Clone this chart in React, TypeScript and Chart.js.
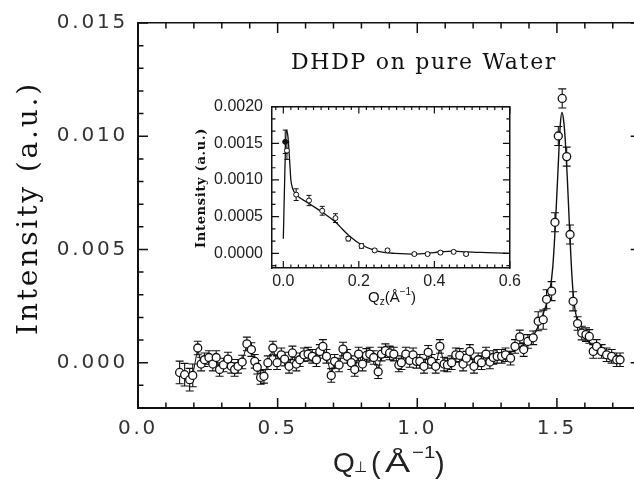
import { useEffect, useRef } from 'react';
import { Chart, registerables } from 'chart.js';
Chart.register(...registerables);

// ---------------- data ----------------
const mainQ = [
  0.149, 0.167, 0.185, 0.196, 0.214, 0.226, 0.238, 0.254, 0.268, 0.280,
  0.292, 0.306, 0.322, 0.334, 0.346, 0.358, 0.373, 0.390, 0.406, 0.418,
  0.427, 0.439, 0.451, 0.465, 0.483, 0.498, 0.513, 0.525, 0.541, 0.553,
  0.567, 0.579, 0.594, 0.609, 0.624, 0.639, 0.651, 0.662, 0.675, 0.692,
  0.704, 0.720, 0.734, 0.749, 0.764, 0.776, 0.790, 0.804, 0.818, 0.830,
  0.844, 0.860, 0.872, 0.886, 0.901, 0.916, 0.934, 0.943, 0.959, 0.973,
  0.985, 0.997, 1.009, 1.024, 1.039, 1.051, 1.066, 1.081, 1.096, 1.108,
  1.123, 1.138, 1.152, 1.164, 1.176, 1.188, 1.203, 1.218, 1.230, 1.246,
  1.260, 1.272, 1.286, 1.302, 1.316, 1.334, 1.350, 1.367, 1.381, 1.396,
  1.415, 1.433, 1.451, 1.463, 1.481, 1.493, 1.505, 1.519, 1.535, 1.547,
  1.558, 1.574, 1.589, 1.604, 1.616, 1.630, 1.642, 1.660, 1.678, 1.696,
  1.714, 1.726,
];
const mainI = [
  -0.00043, -0.00053, -0.00075, -0.00056, 0.00065, -0.00006, 0.00013, 0.00023, -0.00006, 0.00023,
  -0.00030, -0.00010, 0.00016, -0.00016, -0.00030, -0.00016, 0.00003, 0.00083, 0.00058, 0.00006,
  -0.00020, -0.00065, -0.00060, 0.00000, 0.00065, 0.00000, 0.00035, 0.00016, -0.00016, 0.00043,
  -0.00006, 0.00013, 0.00035, 0.00038, 0.00028, 0.00013, 0.00050, 0.00072, 0.00028, -0.00056,
  0.00006, -0.00010, 0.00060, 0.00028, 0.00000, -0.00030, 0.00038, -0.00006, 0.00032, 0.00038,
  0.00023, -0.00040, 0.00038, 0.00053, 0.00043, 0.00038, -0.00010, 0.00000, 0.00038, 0.00010,
  0.00035, 0.00006, 0.00006, -0.00016, 0.00046, 0.00006, -0.00016, 0.00072, -0.00006, -0.00010,
  0.00000, 0.00035, 0.00032, -0.00006, 0.00020, 0.00050, -0.00016, 0.00013, 0.00000, 0.00038,
  0.00003, 0.00023, 0.00028, 0.00028, 0.00035, 0.00020, 0.00072, 0.00114, 0.00058, 0.00094,
  0.00110, 0.00183, 0.00190, 0.00280, 0.00316, 0.00620, 0.01001, 0.01167, 0.00910, 0.00566,
  0.00271, 0.00173, 0.00131, 0.00124, 0.00116, 0.00050, 0.00072, 0.00050, 0.00035, 0.00028,
  0.00013, 0.00013,
];
const mainErr = [
  0.0005, 0.0005, 0.0005, 0.0005, 0.0003, 0.0003, 0.0003, 0.0003, 0.0003, 0.0003,
  0.0003, 0.0003, 0.0003, 0.0003, 0.0003, 0.0003, 0.0003, 0.0003, 0.0003, 0.0003,
  0.0003, 0.0003, 0.0003, 0.0003, 0.0003, 0.0003, 0.0003, 0.0003, 0.0003, 0.0003,
  0.0003, 0.0003, 0.0003, 0.0003, 0.0003, 0.0003, 0.0003, 0.0003, 0.0003, 0.0003,
  0.0003, 0.0003, 0.0003, 0.0003, 0.0003, 0.0003, 0.0003, 0.0003, 0.0003, 0.0003,
  0.0003, 0.0003, 0.0003, 0.0003, 0.0003, 0.0003, 0.0003, 0.0003, 0.0003, 0.0003,
  0.0003, 0.0003, 0.0003, 0.0003, 0.0003, 0.0003, 0.0003, 0.0003, 0.0003, 0.0003,
  0.0003, 0.0003, 0.0003, 0.0003, 0.0003, 0.0003, 0.0003, 0.0003, 0.0003, 0.0003,
  0.0003, 0.0003, 0.0003, 0.0003, 0.0003, 0.0003, 0.0003, 0.0003, 0.0003, 0.0003,
  0.0003, 0.00042, 0.00042, 0.00042, 0.00042, 0.00042, 0.00042, 0.00042, 0.00042, 0.00042,
  0.00042, 0.0003, 0.0003, 0.0003, 0.0003, 0.0003, 0.0003, 0.0003, 0.0003, 0.0003,
  0.0003, 0.0003,
];
const fitQ = [1.30, 1.34, 1.38, 1.41, 1.44, 1.46, 1.475, 1.485, 1.495, 1.505, 1.512, 1.518, 1.524, 1.530, 1.537, 1.545, 1.552, 1.560, 1.572, 1.590, 1.62, 1.66, 1.70, 1.73];
const fitI = [0.00030, 0.00050, 0.00080, 0.00110, 0.00180, 0.00250, 0.00320, 0.00420, 0.00620, 0.00880, 0.01050, 0.01105, 0.01070, 0.00980, 0.00820, 0.00600, 0.00420, 0.00280, 0.00190, 0.00130, 0.00085, 0.00050, 0.00030, 0.00015];

const insetQ = [0.005, 0.0096, 0.034, 0.068, 0.103, 0.138, 0.172, 0.207, 0.242, 0.276, 0.347, 0.382, 0.416, 0.451, 0.484];
const insetI = [0.00152, 0.00140, 0.00080, 0.00072, 0.00058, 0.00048, 0.00020, 0.00010, 0.00004, 0.00004, -0.00001, -0.00001, 0.00001, 0.00002, -0.00001];
const insetErr = [0.00016, 0.00012, 0.00008, 0.00007, 0.00006, 0.00006, 0.00003, 0.00003, 0.00002, 0.00002, 0.00002, 0.00002, 0.00002, 0.00002, 0.00002];
const insetFitQ = [0.0, 0.004, 0.008, 0.012, 0.0165, 0.02, 0.025, 0.031, 0.068, 0.103, 0.139, 0.174, 0.209, 0.242, 0.27, 0.295, 0.347, 0.399, 0.451, 0.484, 0.54, 0.60];
const insetFitI = [0.0002, 0.0011, 0.00168, 0.0016, 0.00128, 0.0010, 0.00088, 0.00082, 0.00068, 0.00056, 0.00042, 0.00024, 0.00011, 0.00004, 0.00001, 0.0, -0.00001, 0.00001, 0.00003, 0.00002, 0.00001, 0.0];

const mainXTicks = [0, 0.5, 1.0, 1.5];
const mainYTicks = [0, 0.005, 0.010, 0.015];
const insetXTicks = [0, 0.2, 0.4, 0.6];
const insetYTicks = [0, 0.0005, 0.0010, 0.0015, 0.0020];

const chartTitle = 'DHDP on pure Water';
const yTitle = 'Intensity (a.u.)';

const INK = '#111';

// ---------------- helpers ----------------
// draw text spread to a target width (emulates a typewriter-style face)
function fitText(ctx: any, text: string, x: number, y: number, width: number) {
  ctx.letterSpacing = '0px';
  const w0 = ctx.measureText(text).width;
  const ls = (width - w0) / text.length;
  ctx.letterSpacing = ls.toFixed(2) + 'px';
  ctx.fillText(text, x, y);
  ctx.letterSpacing = '0px';
}

// ---------------- plugins ----------------
type TickCfg = {
  xMinor: number; xFrom: number; xTo: number; xEvery: number;
  yMinor: number; yFrom: number; yTo: number; yEvery: number;
  major: number; minor: number; width: number;
};

function ticksPlugin(id: string, c: TickCfg) {
  return {
    id,
    afterDraw(chart: any) {
      const { ctx, chartArea: a, scales } = chart;
      const x = scales.x, y = scales.y;
      ctx.save();
      ctx.strokeStyle = INK;
      ctx.lineWidth = c.width;
      ctx.beginPath();
      for (let k = c.xFrom; k <= c.xTo; k++) {
        const px = x.getPixelForValue(k * c.xMinor);
        const len = k % c.xEvery === 0 ? c.major : c.minor;
        ctx.moveTo(px, a.bottom); ctx.lineTo(px, a.bottom - len);
        ctx.moveTo(px, a.top); ctx.lineTo(px, a.top + len);
      }
      for (let k = c.yFrom; k <= c.yTo; k++) {
        const py = y.getPixelForValue(k * c.yMinor);
        if (py < a.top - 0.5 || py > a.bottom + 0.5) continue;
        const len = k % c.yEvery === 0 ? c.major : c.minor;
        ctx.moveTo(a.left, py); ctx.lineTo(a.left + len, py);
        ctx.moveTo(a.right, py); ctx.lineTo(a.right - len, py);
      }
      ctx.stroke();
      ctx.restore();
    },
  };
}

function errorBarPlugin(id: string, errs: number[], cap: number, lw: number) {
  return {
    id,
    beforeDatasetsDraw(chart: any) {
      const { ctx, scales } = chart;
      const meta = chart.getDatasetMeta(0);
      const data = chart.data.datasets[0].data as { x: number; y: number }[];
      ctx.save();
      ctx.strokeStyle = INK;
      ctx.lineWidth = lw;
      ctx.beginPath();
      data.forEach((d, i) => {
        const e = errs[i] ?? 0;
        const px = meta.data[i].x;
        const y1 = scales.y.getPixelForValue(d.y + e);
        const y2 = scales.y.getPixelForValue(d.y - e);
        ctx.moveTo(px, y1); ctx.lineTo(px, y2);
        ctx.moveTo(px - cap, y1); ctx.lineTo(px + cap, y1);
        ctx.moveTo(px - cap, y2); ctx.lineTo(px + cap, y2);
      });
      ctx.stroke();
      ctx.restore();
    },
  };
}

const spacingPlugin = {
  id: 'spacing',
  beforeDraw(chart: any) {
    (chart.ctx as any).letterSpacing = '2.8px';
  },
};

const mainTextPlugin = {
  id: 'mainText',
  afterDraw(chart: any) {
    const ctx = chart.ctx;
    ctx.save();
    (ctx as any).letterSpacing = '0px';
    ctx.fillStyle = INK;
    // title
    ctx.font = '22px "DejaVu Serif"';
    ctx.textAlign = 'left';
    ctx.textBaseline = 'alphabetic';
    fitText(ctx, chartTitle, 291, 69, 266);
    // y title
    ctx.save();
    ctx.translate(30, 209);
    ctx.rotate(-Math.PI / 2);
    ctx.font = '28px "DejaVu Serif"';
    ctx.textAlign = 'left';
    ctx.textBaseline = 'middle';
    fitText(ctx, yTitle, -126, 0, 254);
    ctx.restore();
    // x title: Q⊥ (Å^-1)
    ctx.textAlign = 'left';
    ctx.fillStyle = '#222';
    ctx.font = '28px "Liberation Sans"';
    ctx.fillText('Q', 333, 472);
    ctx.font = '15px "DejaVu Sans"';
    ctx.fillText('⊥', 354, 472);
    ctx.font = '29px "Liberation Sans"';
    ctx.fillText('(', 371, 473);
    ctx.save();
    ctx.translate(385, 472);
    ctx.scale(1.35, 1);
    ctx.font = '28px "Liberation Sans"';
    ctx.fillText('Å', 0, 0);
    ctx.restore();
    ctx.save();
    ctx.translate(412, 458);
    ctx.scale(1.2, 1);
    ctx.font = '17px "Liberation Sans"';
    ctx.fillText('−1', 0, 0);
    ctx.restore();
    ctx.font = '29px "Liberation Sans"';
    ctx.fillText(')', 435, 473);
    ctx.restore();
  },
};

const insetTextPlugin = {
  id: 'insetText',
  afterDraw(chart: any) {
    const ctx = chart.ctx;
    ctx.save();
    ctx.fillStyle = INK;
    ctx.save();
    ctx.translate(22, 100);
    ctx.rotate(-Math.PI / 2);
    ctx.font = 'bold 13px "DejaVu Serif"';
    ctx.textAlign = 'left';
    ctx.textBaseline = 'middle';
    fitText(ctx, yTitle, -60, 0, 120);
    ctx.restore();
    ctx.textAlign = 'left';
    ctx.textBaseline = 'alphabetic';
    let x = 188;
    const base = 214;
    const put = (t: string, font: string, dy: number) => {
      ctx.font = font;
      ctx.fillText(t, x, base + dy);
      x += ctx.measureText(t).width;
    };
    put('Q', '15px "Liberation Sans"', 0);
    put('z', '10px "Liberation Sans"', 3);
    put('(', '15px "Liberation Sans"', 0);
    put('Å', '15px "Liberation Sans"', 0);
    put('−1', '10px "Liberation Sans"', -7);
    put(')', '15px "Liberation Sans"', 0);
    ctx.restore();
  },
};

// ---------------- component ----------------
export default function App() {
  const mainRef = useRef<HTMLCanvasElement>(null);
  const insetRef = useRef<HTMLCanvasElement>(null);

  useEffect(() => {
    const tickFont = { family: '"DejaVu Sans"', size: 20 };
    const main = new Chart(mainRef.current!, {
      type: 'scatter',
      data: {
        datasets: [
          {
            data: mainQ.map((q, i) => ({ x: q, y: mainI[i] })),
            showLine: true,
            borderColor: INK,
            borderWidth: 1,
            pointRadius: 4,
            pointBorderWidth: 1.3,
            pointBackgroundColor: '#fff',
            pointBorderColor: INK,
            segment: {
              borderColor: (c: any) => (c.p0.parsed.x >= 1.30 ? 'rgba(0,0,0,0)' : INK),
            },
          } as any,
          {
            data: fitQ.map((q, i) => ({ x: q, y: fitI[i] })),
            showLine: true,
            borderColor: INK,
            borderWidth: 1.4,
            pointRadius: 0,
            cubicInterpolationMode: 'monotone',
          } as any,
        ],
      },
      options: {
        animation: false,
        responsive: false,
        devicePixelRatio: 1,
        layout: { padding: 0 },
        plugins: { legend: { display: false }, tooltip: { enabled: false } },
        scales: {
          x: {
            type: 'linear', position: 'bottom', min: 0, max: 1.8,
            afterBuildTicks: (s: any) => { s.ticks = mainXTicks.map((v) => ({ value: v })); },
            afterFit: (s: any) => { s.height = 73; },
            ticks: { font: tickFont, color: '#333', padding: 9, maxRotation: 0, autoSkip: false, callback: (v: any) => Number(v).toFixed(1) },
            grid: { display: false, drawTicks: false },
            border: { display: true, color: INK, width: 2 },
          },
          x2: {
            type: 'linear', position: 'top', min: 0, max: 1.8,
            afterFit: (s: any) => { s.height = 23; },
            ticks: { display: false },
            grid: { display: false, drawTicks: false },
            border: { display: true, color: INK, width: 1.5 },
          },
          y: {
            type: 'linear', position: 'left', min: -0.002, max: 0.015,
            afterBuildTicks: (s: any) => { s.ticks = mainYTicks.map((v) => ({ value: v })); },
            afterFit: (s: any) => { s.width = 138; },
            ticks: { font: tickFont, color: '#333', padding: 10, callback: (v: any) => Number(v).toFixed(3) },
            grid: { display: false, drawTicks: false },
            border: { display: true, color: INK, width: 2 },
          },
          y2: {
            type: 'linear', position: 'right', min: -0.002, max: 0.015,
            afterFit: (s: any) => { s.width = 5; },
            ticks: { display: false },
            grid: { display: false, drawTicks: false },
            border: { display: false },
          },
        },
      } as any,
      plugins: [
        spacingPlugin,
        errorBarPlugin('mainErr', mainErr, 4, 1.1),
        ticksPlugin('mainTicks', { xMinor: 0.1, xFrom: 0, xTo: 18, xEvery: 5, yMinor: 0.001, yFrom: -2, yTo: 15, yEvery: 5, major: 10, minor: 5.5, width: 1.5 }),
        mainTextPlugin,
      ],
    });

    const insetFont = { family: '"Liberation Sans"', size: 16 };
    const inset = new Chart(insetRef.current!, {
      type: 'scatter',
      data: {
        datasets: [
          {
            data: insetQ.map((q, i) => ({ x: q, y: insetI[i] })),
            showLine: false,
            pointRadius: 2.5,
            pointBorderWidth: 1,
            pointBackgroundColor: insetQ.map((_, i) => (i === 0 ? INK : '#fff')),
            pointBorderColor: INK,
          },
          {
            data: insetFitQ.map((q, i) => ({ x: q, y: insetFitI[i] })),
            showLine: true,
            borderColor: INK,
            borderWidth: 1.3,
            pointRadius: 0,
            cubicInterpolationMode: 'monotone',
          } as any,
        ],
      },
      options: {
        animation: false,
        responsive: false,
        devicePixelRatio: 1,
        layout: { padding: 0 },
        plugins: { legend: { display: false }, tooltip: { enabled: false } },
        scales: {
          x: {
            type: 'linear', position: 'bottom', min: -0.03, max: 0.6,
            afterBuildTicks: (s: any) => { s.ticks = insetXTicks.map((v) => ({ value: v })); },
            afterFit: (s: any) => { s.height = 50; },
            ticks: { font: insetFont, color: '#222', padding: 4, maxRotation: 0, autoSkip: false, callback: (v: any) => Number(v).toFixed(1) },
            grid: { display: false, drawTicks: false },
            border: { display: true, color: INK, width: 1.5 },
          },
          x2: {
            type: 'linear', position: 'top', min: -0.03, max: 0.6,
            afterFit: (s: any) => { s.height = 15; },
            ticks: { display: false },
            grid: { display: false, drawTicks: false },
            border: { display: true, color: INK, width: 1.5 },
          },
          y: {
            type: 'linear', position: 'left', min: -0.0002, max: 0.002,
            afterBuildTicks: (s: any) => { s.ticks = insetYTicks.map((v) => ({ value: v })); },
            afterFit: (s: any) => { s.width = 92; },
            ticks: { font: insetFont, color: '#222', padding: 9, callback: (v: any) => Number(v).toFixed(4) },
            grid: { display: false, drawTicks: false },
            border: { display: true, color: INK, width: 1.5 },
          },
          y2: {
            type: 'linear', position: 'right', min: -0.0002, max: 0.002,
            afterFit: (s: any) => { s.width = 11; },
            ticks: { display: false },
            grid: { display: false, drawTicks: false },
            border: { display: true, color: INK, width: 1.5 },
          },
        },
      } as any,
      plugins: [
        errorBarPlugin('insetErr', insetErr, 2.5, 1),
        ticksPlugin('insetTicks', { xMinor: 0.02, xFrom: -1, xTo: 30, xEvery: 10, yMinor: 0.0005 / 3, yFrom: -1, yTo: 12, yEvery: 3, major: 7, minor: 3.5, width: 1.2 }),
        insetTextPlugin,
      ],
    });

    return () => {
      main.destroy();
      inset.destroy();
    };
  }, []);

  return (
    <div style={{ position: 'fixed', left: 0, top: 0, width: 634, height: 481, overflow: 'hidden', background: '#fff' }}>
      <canvas ref={mainRef} width={646} height={481} style={{ position: 'absolute', left: 0, top: 0, display: 'block' }} />
      <canvas ref={insetRef} width={345} height={230} style={{ position: 'absolute', left: 180, top: 88, display: 'block' }} />
    </div>
  );
}
